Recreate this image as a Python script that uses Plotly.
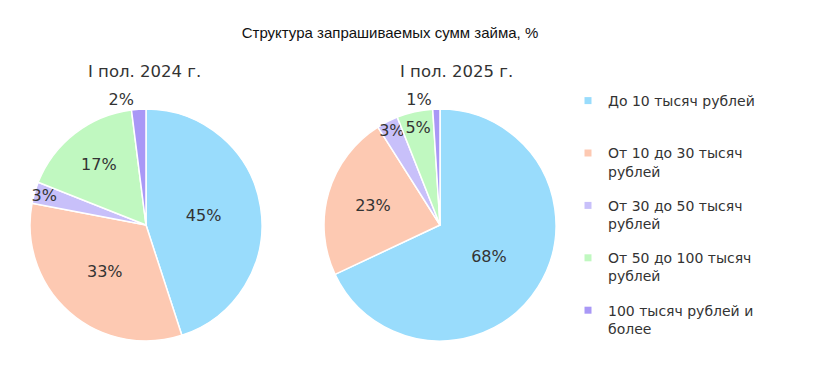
import plotly.graph_objects as go

categories = ["До 10 тысяч рублей", "От 10 до 30 тысяч рублей", "От 30 до 50 тысяч рублей",
              "От 50 до 100 тысяч рублей", "100 тысяч рублей и более"]
legend_labels = ["До 10 тысяч рублей<br> ", "От 10 до 30 тысяч<br>рублей", "От 30 до 50 тысяч<br>рублей",
                 "От 50 до 100 тысяч<br>рублей", "100 тысяч рублей и<br>более"]
values_2024 = [45, 33, 3, 17, 2]
values_2025 = [68, 23, 3, 5, 1]
period_labels = ["I пол. 2024 г.", "I пол. 2025 г."]
title_text = "Структура запрашиваемых сумм займа, %"
colors = ["#99dcfc", "#fdc9b2", "#c8c0fa", "#c0f8c0", "#a998f6"]

# page body has an 8px margin, so the figure is sized to fit the window
W, H = 820, 382
FONT = "DejaVu Sans"
TXT = "#333333"

def pie(values, xdom, positions):
    return go.Pie(
        labels=categories, values=values, sort=False, direction="clockwise", rotation=0,
        marker=dict(colors=colors, line=dict(color="white", width=1.5)),
        texttemplate="%{value}%", textposition=positions,
        insidetextorientation="horizontal",
        textfont=dict(family=FONT, size=16, color=TXT),
        outsidetextfont=dict(family=FONT, size=16, color=TXT),
        domain=dict(x=xdom, y=[49 / H, 281 / H]),
        showlegend=False, hoverinfo="label+percent",
    )

fig = go.Figure()
fig.add_trace(pie(values_2024, [22 / W, 254 / W], ["inside", "inside", "inside", "inside", "outside"]))
fig.add_trace(pie(values_2025, [316 / W, 548 / W], ["inside", "inside", "inside", "inside", "outside"]))

for name, c in zip(legend_labels, colors):
    fig.add_trace(go.Scatter(x=[None], y=[None], mode="markers", name=name, legendgroup=name,
                             marker=dict(symbol="square", size=7, color=c), showlegend=True))

fig.update_layout(
    width=W, height=H, margin=dict(l=0, r=0, t=0, b=0),
    paper_bgcolor="white", plot_bgcolor="white",
    xaxis=dict(visible=False), yaxis=dict(visible=False),
    uniformtext=dict(minsize=16, mode="show"),
    title=dict(text=title_text, x=382 / W, xanchor="center", y=1 - 25 / H, yanchor="middle",
               font=dict(family="Liberation Sans", size=15, color="#111111")),
    legend=dict(x=560 / W, y=1 - 77 / H, xanchor="left", yanchor="top", valign="top",
                font=dict(family=FONT, size=14, color=TXT), tracegroupgap=13, itemwidth=30,
                bgcolor="rgba(0,0,0,0)"),
    annotations=[
        dict(text=period_labels[0], x=136 / W, y=1 - 64 / H, xref="paper", yref="paper",
             xanchor="center", yanchor="middle",
             showarrow=False, font=dict(family=FONT, size=16.5, color=TXT)),
        dict(text=period_labels[1], x=448 / W, y=1 - 64 / H, xref="paper", yref="paper",
             xanchor="center", yanchor="middle",
             showarrow=False, font=dict(family=FONT, size=16.5, color=TXT)),
    ],
)

fig.write_html("out.html")
